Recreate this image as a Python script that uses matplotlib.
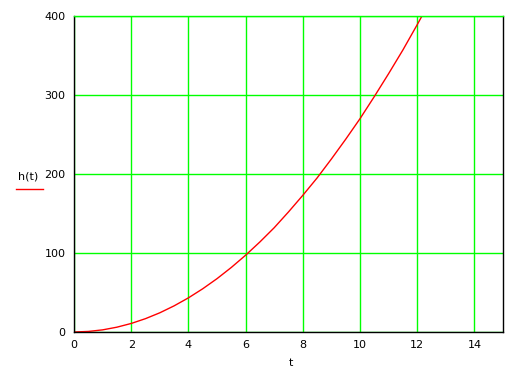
import matplotlib
matplotlib.use("Agg")
import matplotlib.pyplot as plt
from matplotlib.lines import Line2D

# values
t = [0, 0.5, 1, 1.5, 2, 2.5, 3, 3.5, 4, 4.5, 5, 5.5, 6, 6.5, 7, 7.5, 8,
     8.5, 9, 9.5, 10, 10.5, 11, 11.5, 12, 12.5]
h = [0, 0.7, 2.7, 6.1, 10.8, 16.9, 24.3, 33.1, 43.2, 54.7, 67.5, 81.7, 97.2,
     114, 132, 152, 173, 195, 219, 244, 270, 298, 327, 357, 389, 422]

xticks = [0, 2, 4, 6, 8, 10, 12, 14]
yticks = [0, 100, 200, 300, 400]

GREEN = "#00ff00"

fig = plt.figure(figsize=(5.27, 3.71), dpi=100)
ax = fig.add_axes([74 / 527, 1 - 332 / 371, 429 / 527, 316 / 371])

ax.plot(t, h, color="red", lw=1.0)
ax.set_xlim(0, 15)
ax.set_ylim(0, 400)
ax.set_xticks(xticks)
ax.set_yticks(yticks)
ax.grid(True, color=GREEN, lw=1.0)
ax.set_axisbelow(True)
ax.tick_params(length=0, labelsize=8, pad=6)

for side in ["left", "bottom", "right"]:
    ax.spines[side].set_color("black")
    ax.spines[side].set_linewidth(1.0)
ax.spines["top"].set_color(GREEN)
ax.spines["top"].set_linewidth(1.0)

fig.text(291 / 527, 1 - 363 / 371, "t", ha="center", va="center", fontsize=8)
fig.text(28 / 527, 1 - 176 / 371, "h(t)", ha="center", va="center", fontsize=8)
fig.add_artist(Line2D([16 / 527, 43 / 527], [1 - 189 / 371, 1 - 189 / 371],
                      transform=fig.transFigure, color="red", lw=1.0))

fig.savefig("out.png", dpi=100)
